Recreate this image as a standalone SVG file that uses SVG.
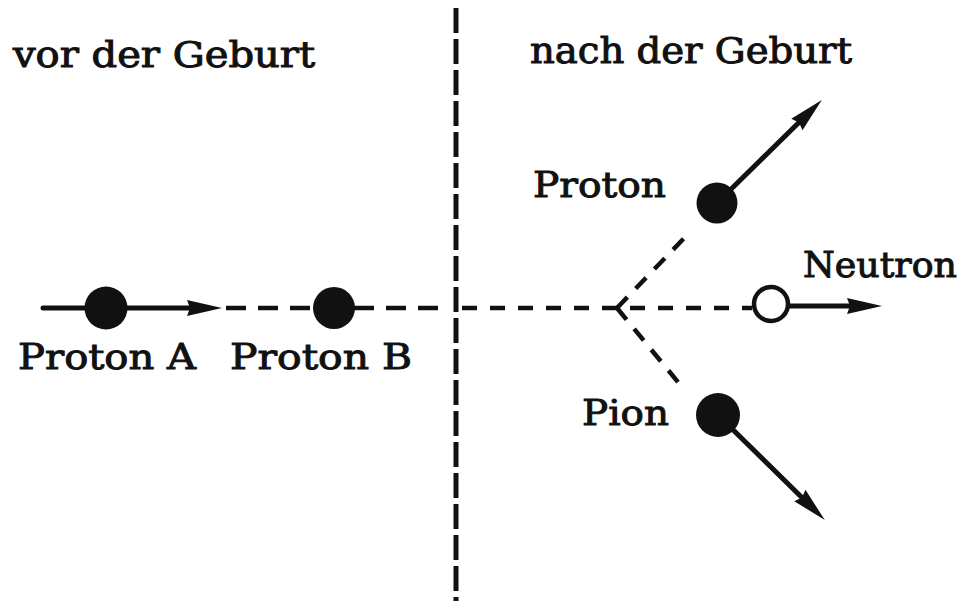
<svg xmlns="http://www.w3.org/2000/svg" width="965" height="601" viewBox="0 0 965 601">
<style>
  text { font-family: "DejaVu Serif", "Liberation Serif", serif; fill: #111; stroke: #111; stroke-width: 1; }
  .h { font-size: 35px; }
  .l { font-size: 36px; }
  .dot { fill: #111; }
  .open { fill: #fff; stroke: #111; stroke-width: 4.5; }
  .solid { stroke: #111; stroke-width: 5; fill: none; stroke-linecap: round; }
  .dash { stroke: #111; stroke-width: 4.5; fill: none; }
  .divider { stroke: #111; stroke-width: 5; fill: none; stroke-dasharray: 25 6; }
</style>
<defs>
  <marker id="arrow" markerUnits="userSpaceOnUse" markerWidth="60" markerHeight="30" refX="0" refY="0" orient="auto" overflow="visible" viewBox="-20 -15 60 30">
    <path d="M25,0 L-10,-8 L-7,0 L-10,8 Z" fill="#111"/>
  </marker>
</defs>
<rect width="965" height="601" fill="#fff"/>

<line id="divider" class="divider" x1="456" y1="8" x2="456" y2="601"/>
<text class="h" x="13" y="67" textLength="302" lengthAdjust="spacingAndGlyphs">vor der Geburt</text>
<text class="h" x="530" y="63" textLength="322" lengthAdjust="spacingAndGlyphs">nach der Geburt</text>

<g id="connectors">
  <line class="dash" x1="226" y1="308" x2="440" y2="308" stroke-dasharray="20 12"/>
  <line class="dash" x1="462" y1="308" x2="752" y2="308" stroke-dasharray="15 13"/>
  <line class="dash" x1="617" y1="308" x2="690" y2="232" stroke-dasharray="15 12"/>
  <line class="dash" x1="617" y1="308" x2="682" y2="387" stroke-dasharray="15 12"/>
  <line class="solid" x1="43" y1="308" x2="197" y2="308" marker-end="url(#arrow)"/>
  <line class="solid" x1="717" y1="203" x2="804" y2="117.5" marker-end="url(#arrow)"/>
  <line class="solid" x1="788" y1="306" x2="857" y2="306" marker-end="url(#arrow)"/>
  <line class="solid" x1="718" y1="415" x2="807" y2="502.5" marker-end="url(#arrow)"/>
</g>

<g id="protonA">
  <circle class="dot" cx="106" cy="308" r="21.5"/>
  <text class="l" x="18" y="369" textLength="178" lengthAdjust="spacingAndGlyphs">Proton A</text>
</g>
<g id="protonB">
  <circle class="dot" cx="334" cy="308" r="21"/>
  <text class="l" x="230" y="369" textLength="182" lengthAdjust="spacingAndGlyphs">Proton B</text>
</g>
<g id="proton">
  <circle class="dot" cx="717" cy="203" r="20.5"/>
  <text class="l" x="533" y="197" textLength="133" lengthAdjust="spacingAndGlyphs">Proton</text>
</g>
<g id="neutron">
  <circle class="open" cx="771" cy="304" r="17"/>
  <text class="l" x="803" y="277" textLength="154" lengthAdjust="spacingAndGlyphs">Neutron</text>
</g>
<g id="pion">
  <circle class="dot" cx="718" cy="415" r="22"/>
  <text class="l" x="582" y="425" textLength="87" lengthAdjust="spacingAndGlyphs">Pion</text>
</g>
</svg>
